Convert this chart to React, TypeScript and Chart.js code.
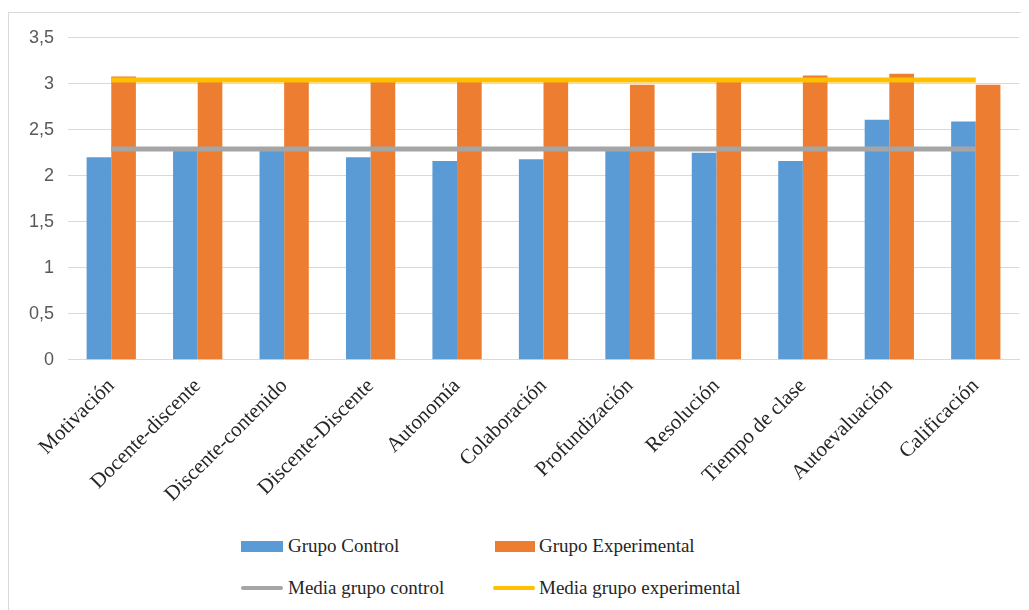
import React, { useEffect, useRef } from "react";
import { Chart, registerables } from "chart.js";

Chart.register(...registerables);

const categories = [
  "Motivación",
  "Docente-discente",
  "Discente-contenido",
  "Discente-Discente",
  "Autonomía",
  "Colaboración",
  "Profundización",
  "Resolución",
  "Tiempo de clase",
  "Autoevaluación",
  "Calificación",
];
const grupoControl = [2.2, 2.29, 2.3, 2.2, 2.16, 2.18, 2.29, 2.25, 2.16, 2.61, 2.59];
const grupoExperimental = [3.08, 3.03, 3.03, 3.03, 3.03, 3.03, 2.99, 3.02, 3.09, 3.11, 2.99];
const mediaControl = [2.29, 2.29, 2.29, 2.29, 2.29, 2.29, 2.29, 2.29, 2.29, 2.29, 2.29];
const mediaExperimental = [3.04, 3.04, 3.04, 3.04, 3.04, 3.04, 3.04, 3.04, 3.04, 3.04, 3.04];
const yTicks = [0, 0.5, 1, 1.5, 2, 2.5, 3, 3.5];

const BLUE = "#5B9BD5";
const ORANGE = "#ED7D31";
const GREY = "#A5A5A5";
const YELLOW = "#FFC000";
const SERIF = '"Liberation Serif", "Times New Roman", serif';

export default function App() {
  const ref = useRef<HTMLCanvasElement | null>(null);
  useEffect(() => {
    if (!ref.current) return;
    const chart = new Chart(ref.current, {
      type: "bar",
      data: {
        labels: categories,
        datasets: [
          {
            type: "line",
            label: "Media grupo control",
            data: mediaControl,
            borderColor: GREY,
            backgroundColor: GREY,
            borderWidth: 5,
            pointRadius: 0,
            order: 0,
          },
          {
            type: "line",
            label: "Media grupo experimental",
            data: mediaExperimental,
            borderColor: YELLOW,
            backgroundColor: YELLOW,
            borderWidth: 5,
            pointRadius: 0,
            order: 0,
          },
          {
            type: "bar",
            label: "Grupo Control",
            data: grupoControl,
            backgroundColor: BLUE,
            categoryPercentage: 0.57,
            barPercentage: 1,
            order: 1,
          },
          {
            type: "bar",
            label: "Grupo Experimental",
            data: grupoExperimental,
            backgroundColor: ORANGE,
            categoryPercentage: 0.57,
            barPercentage: 1,
            order: 1,
          },
        ],
      },
      options: {
        animation: false,
        responsive: false,
        maintainAspectRatio: false,
        layout: { padding: { left: 6, right: 5, top: 16, bottom: 10 } },
        plugins: { legend: { display: false }, tooltip: { enabled: false } },
        scales: {
          x: {
            grid: { display: false },
            border: { display: true, color: "#D9D9D9", width: 1 },
            ticks: {
              minRotation: 45,
              maxRotation: 45,
              color: "#262626",
              padding: 6,
              font: { family: SERIF, size: 21 },
            },
          },
          y: {
            min: 0,
            max: 3.5,
            afterBuildTicks: (axis: any) => {
              axis.ticks = yTicks.map((v) => ({ value: v }));
            },
            grid: { color: "#D9D9D9", drawTicks: false, lineWidth: 1 },
            border: { display: false },
            ticks: {
              color: "#595959",
              padding: 14,
              font: { family: '"Liberation Sans", Arial, sans-serif', size: 18 },
              callback: (v: any) => String(v).replace(".", ","),
            },
          },
        },
      },
    });
    return () => chart.destroy();
  }, []);

  const textStyle: React.CSSProperties = {
    position: "absolute",
    fontFamily: SERIF,
    fontSize: 19,
    lineHeight: "20px",
    color: "#262626",
    whiteSpace: "nowrap",
  };

  return (
    <div
      style={{
        position: "relative",
        width: 1015,
        height: 600,
        marginTop: 4,
        border: "1px solid #D9D9D9",
        background: "#fff",
      }}
    >
      <canvas ref={ref} width={1015} height={510} style={{ display: "block" }} />
      <div style={{ position: "absolute", left: 232, top: 528, width: 42, height: 11, background: BLUE }} />
      <div style={{ ...textStyle, left: 279, top: 523 }}>Grupo Control</div>
      <div style={{ position: "absolute", left: 486, top: 528, width: 40, height: 11, background: ORANGE }} />
      <div style={{ ...textStyle, left: 530, top: 523 }}>Grupo Experimental</div>
      <div style={{ position: "absolute", left: 232, top: 573, width: 42, height: 4, background: GREY, borderRadius: 2 }} />
      <div style={{ ...textStyle, left: 279, top: 565 }}>Media grupo control</div>
      <div style={{ position: "absolute", left: 484, top: 573, width: 42, height: 4, background: YELLOW, borderRadius: 2 }} />
      <div style={{ ...textStyle, left: 530, top: 565 }}>Media grupo experimental</div>
    </div>
  );
}
